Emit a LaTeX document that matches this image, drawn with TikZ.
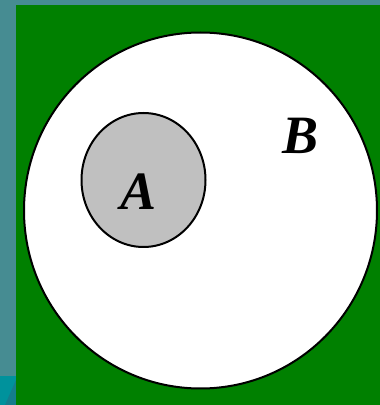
\documentclass[tikz,border=0pt]{standalone}
\usepackage{fontspec}
\setmainfont{Liberation Serif}
\usepackage{xcolor}
\usepackage{tikz}
\usetikzlibrary{positioning}
\definecolor{slidebg}{RGB}{70,140,146}
\definecolor{slidecorner}{RGB}{0,146,156}
\definecolor{slidestripe}{RGB}{20,125,140}
\definecolor{venngreen}{RGB}{0,128,0}
\definecolor{venngray}{RGB}{192,192,192}
\tikzset{
  setline/.style={draw=black, line width=2pt},
  setlbl/.style={font=\fontsize{54}{54}\selectfont\bfseries\itshape, inner sep=0pt},
}

\begin{document}
\begin{tikzpicture}[x=1pt, y=1pt]
  \useasboundingbox (0,0) rectangle (380,405);
  % slide background
  \fill[slidebg] (0,0) rectangle (380,405);
  \fill[slidecorner] (0,0) rectangle (16,29);
  \fill[slidestripe] (5,0) -- (16,25) -- (16,0) -- cycle;
  \fill[venngreen] (16,0) rectangle (380,400);
  % universe B and subset A
  \draw[setline, fill=white] (200.5,194.5) ellipse [x radius=176.5, y radius=178];
  \draw[setline, fill=venngray] (143.5,225) ellipse [x radius=62, y radius=67];
  \node[setlbl] (labA) at (139,213) {A};
  \node[setlbl] (labB) at (301,269) {B};
\end{tikzpicture}
\end{document}
